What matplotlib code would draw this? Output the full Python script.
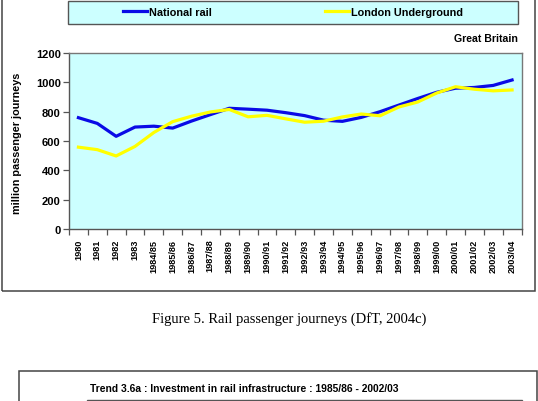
import matplotlib
matplotlib.use('Agg')
import matplotlib.pyplot as plt
from matplotlib.patches import Rectangle
import numpy as np

plt.rcParams['font.family'] = ['Liberation Sans', 'DejaVu Sans']
plt.rcParams['font.weight'] = 'bold'

# data (million passenger journeys)
periods = ['1980', '1981', '1982', '1983', '1984/85', '1985/86', '1986/87',
           '1987/88', '1988/89', '1989/90', '1990/91', '1991/92', '1992/93',
           '1993/94', '1994/95', '1995/96', '1996/97', '1997/98', '1998/99',
           '1999/00', '2000/01', '2001/02', '2002/03', '2003/04']
national_rail = [759, 720, 632, 695, 701, 688, 736, 780, 823, 817, 810, 793,
                 773, 742, 734, 761, 800, 845, 890, 932, 960, 965, 979, 1016]
london_underground = [558, 541, 498, 563, 658, 732, 769, 798, 815, 765, 775,
                      751, 728, 735, 764, 784, 772, 832, 866, 927, 970, 953,
                      942, 948]
y_ticks = [0, 200, 400, 600, 800, 1000, 1200]

W, H = 538, 402
fig = plt.figure(figsize=(W / 100, H / 100), dpi=100)

def fx(x):
    return x / W

def fy(y):
    return 1 - y / H

# outer frame of the first chart (top edge is off the page)
fig.patches.append(Rectangle((fx(2), fy(292)), fx(533), 310 / H,
                             transform=fig.transFigure, fill=False,
                             edgecolor='#444444', lw=1.1))
# legend box
fig.patches.append(Rectangle((fx(67.5), fy(25)), fx(450.5), 23 / H,
                             transform=fig.transFigure, facecolor='#ccffff',
                             edgecolor='#555555', lw=1))

ax = fig.add_axes([fx(69), fy(230), fx(452.5), 176 / H])
ax.set_facecolor('#ccffff')
x = np.arange(len(periods)) + 0.5
l1, = ax.plot(x, national_rail, color='#0a0ae6', lw=2.3, label='National rail')
l2, = ax.plot(x, london_underground, color='#ffff00', lw=2.3,
              label='London Underground')
ax.set_xlim(0, len(periods))
ax.set_ylim(0, 1200)
ax.set_yticks(y_ticks)
ax.set_yticklabels([str(v) for v in y_ticks], fontsize=8, fontweight='bold')
ax.set_xticks(np.arange(len(periods) + 1))
ax.set_xticklabels([])
ax.set_xticks(x, minor=True)
ax.set_xticklabels(periods, minor=True, rotation=90, fontsize=6.6,
                   fontweight='bold', va='top')
ax.tick_params(axis='x', which='minor', length=0, pad=7)
ax.tick_params(axis='both', which='major', length=4, width=0.9,
               color='#555555', direction='out')
ax.tick_params(axis='y', pad=2)
for s in ax.spines.values():
    s.set_color('#777777')
    s.set_linewidth(1)
ax.spines['left'].set_color('#555555')
ax.spines['bottom'].set_color('#555555')
ax.set_ylabel('million passenger journeys', fontsize=7.8, fontweight='bold')
ax.yaxis.set_label_coords(-(69 - 22) / 452.5, 0.49)

fig.legend(handles=[l1, l2], loc='center',
           bbox_to_anchor=(fx(293), fy(12.7)), ncol=2, frameon=False,
           handlelength=2.2, handletextpad=0.2, columnspacing=10.5,
           prop={'size': 7.8, 'weight': 'bold'})

fig.text(fx(517.5), fy(39.5), 'Great Britain', ha='right', va='center',
         fontsize=7.6, fontweight='bold')

fig.text(fx(289), fy(319), 'Figure 5. Rail passenger journeys (DfT, 2004c)',
         ha='center', va='center', fontsize=10.5, fontweight='normal',
         family=['Liberation Serif', 'DejaVu Serif'])

# top of the next chart on the page
fig.patches.append(Rectangle((fx(19), fy(410)), fx(518), 38 / H,
                             transform=fig.transFigure, fill=False,
                             edgecolor='#444444', lw=1.1))
fig.patches.append(Rectangle((fx(86.5), fy(410)), fx(435), 8.5 / H,
                             transform=fig.transFigure, facecolor='#ccffff',
                             edgecolor='#555555', lw=1))
fig.text(fx(90), fy(389.5),
         'Trend 3.6a : Investment in rail infrastructure : 1985/86 - 2002/03',
         ha='left', va='center', fontsize=7.4, fontweight='bold')

fig.savefig('out.png', dpi=100)
